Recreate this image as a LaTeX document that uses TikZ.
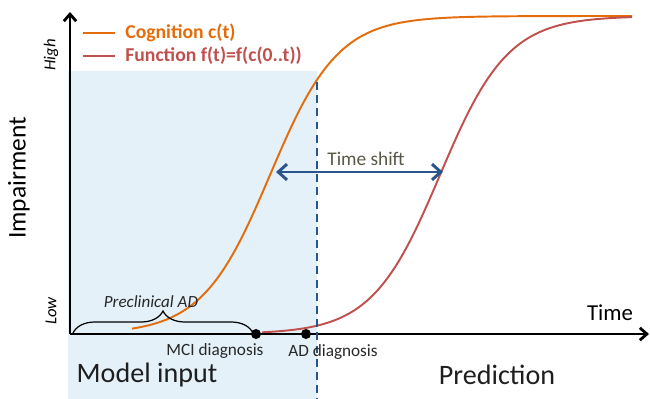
\documentclass[tikz,border=0pt]{standalone}
\usepackage{fontspec}
\setmainfont{Carlito}
\usetikzlibrary{arrows.meta,decorations.pathreplacing}

\begin{document}
\begin{tikzpicture}[x=0.02cm,y=-0.02cm,
		cogline/.style={color={rgb,255:red,228; green,108; blue,10}, line width=1.1pt},
		funline/.style={color={rgb,255:red,192; green,80; blue,77}, line width=1.1pt},
		axisline/.style={line width=1.6pt, -{Straight Barb[length=4pt,width=7pt]}},
		shiftcol/.style={color={rgb,255:red,42; green,85; blue,140}},
		dot/.style={circle, fill=black, inner sep=0pt, minimum size=0.2cm},
		smalllab/.style={font=\fontsize{9.8}{10}\selectfont, color={rgb,255:red,40; green,40; blue,40}}]
		\useasboundingbox (0,0) rectangle (650,399);
		% model input area
		\fill [color={rgb,255:red,228; green,241; blue,249}] (68,71) rectangle (317,399);
		% curves
		\draw [cogline] plot [domain=132:632, samples=150, smooth] (\x,{334-318/(1+exp(-(\x-270)/34))});
		\draw [funline] plot [domain=262:632, samples=150, smooth] (\x,{334-318/(1+exp(-(\x-440)/34))});
		% axes
		\coordinate (O) at (70,334);
		\coordinate (ytip) at (70,12);
		\coordinate (xtip) at (649,334);
		\draw [axisline] (O) -- (ytip);
		\draw [axisline] (O) -- (xtip);
		\node [rotate=90, font=\fontsize{14.5}{15}\selectfont] (impair) at (19,178) {Impairment};
		\node [rotate=90, font=\fontsize{9.5}{10}\itshape] (high) at (51,55) {High};
		\node [rotate=90, font=\fontsize{9.5}{10}\itshape] (low) at (51,311) {Low};
		\node [font=\fontsize{13}{14}\selectfont] (time) at (610,313) {Time};
		% legend
		\coordinate (cogA) at (83,33);
		\coordinate (cogB) at (115,33);
		\coordinate (funA) at (83,56);
		\coordinate (funB) at (115,56);
		\draw [cogline] (cogA) -- (cogB);
		\draw [funline] (funA) -- (funB);
		\node [anchor=west, inner sep=0pt, font=\fontsize{11.2}{12}\bfseries, color={rgb,255:red,228; green,108; blue,10}] (cogleg) at (125,33) {Cognition c(t)};
		\node [anchor=west, inner sep=0pt, font=\fontsize{11.2}{12}\bfseries, color={rgb,255:red,192; green,80; blue,77}] (funleg) at (125,56) {Function f(t)=f(c(0..t))};
		% AD diagnosis cut
		\coordinate (cutA) at (317,82);
		\coordinate (cutB) at (317,399);
		\draw [shiftcol, line width=1.1pt, dash pattern=on 4.5pt off 3pt] (cutA) -- (cutB);
		% time shift
		\coordinate (shiftL) at (276,172);
		\coordinate (shiftR) at (443,172);
		\draw [shiftcol, line width=1.7pt, {Straight Barb[length=5pt,width=9pt]}-{Straight Barb[length=5pt,width=9pt]}] (shiftL) -- (shiftR);
		\node [font=\fontsize{11}{12}\selectfont, color={rgb,255:red,90; green,88; blue,70}] (shift) at (366,159) {Time shift};
		% preclinical phase
		\coordinate (braceL) at (73,333);
		\coordinate (braceR) at (253,333);
		\draw [line width=0.7pt, decorate, decoration={brace, amplitude=0.44cm}] (braceL) -- (braceR);
		\node [font=\fontsize{9.7}{10}\itshape, color={rgb,255:red,40; green,40; blue,40}] (precl) at (151,302) {Preclinical AD};
		% diagnoses
		\node [dot] (mci) at (256,334) {};
		\node [dot] (ad) at (306,334) {};
		\node [smalllab] (mcilab) at (215,351) {MCI diagnosis};
		\node [smalllab] (adlab) at (333,352) {AD diagnosis};
		% phases
		\node [font=\fontsize{16}{17}\selectfont, color={rgb,255:red,30; green,30; blue,30}] (input) at (147,375) {Model input};
		\node [font=\fontsize{16}{17}\selectfont, color={rgb,255:red,30; green,30; blue,30}] (pred) at (497,375) {Prediction};
\end{tikzpicture}
\end{document}
